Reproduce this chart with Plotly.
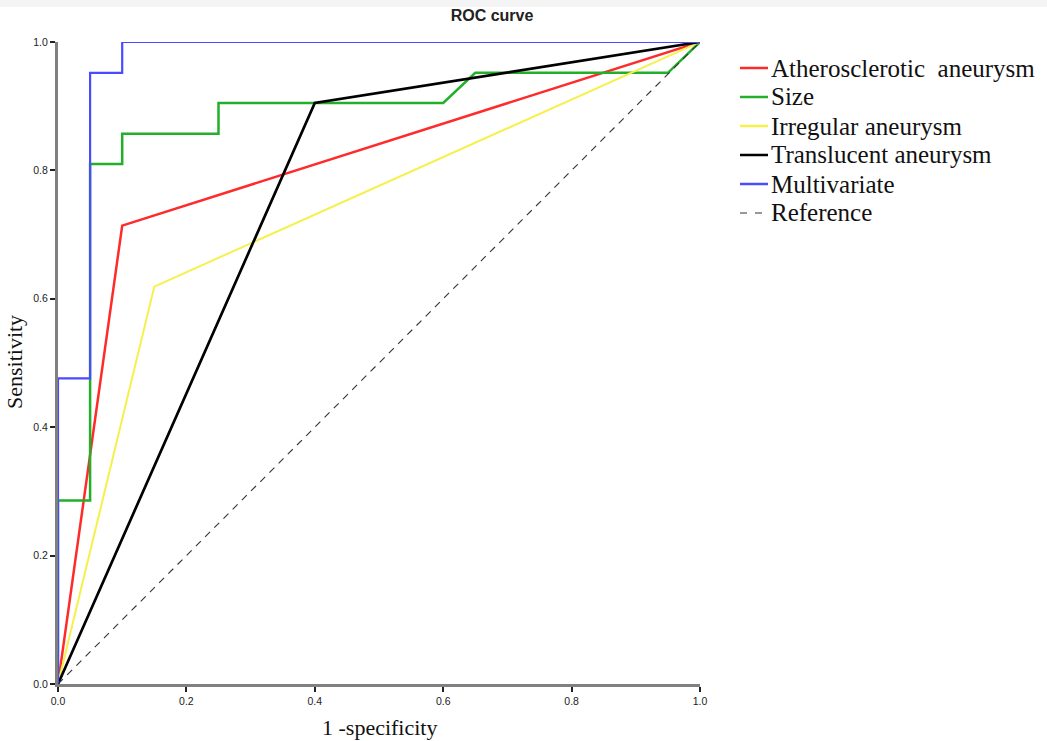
import plotly.graph_objects as go

# ROC curve data (1 - specificity, sensitivity)
athero_x = [0.0, 0.10, 1.0]
athero_y = [0.0, 0.714, 1.0]

size_x = [0.0, 0.0, 0.05, 0.05, 0.10, 0.10, 0.25, 0.25, 0.60, 0.65, 0.95, 1.0]
size_y = [0.0, 0.286, 0.286, 0.810, 0.810, 0.857, 0.857, 0.905, 0.905, 0.952, 0.952, 1.0]

irregular_x = [0.0, 0.15, 1.0]
irregular_y = [0.0, 0.619, 1.0]

translucent_x = [0.0, 0.40, 1.0]
translucent_y = [0.0, 0.905, 1.0]

multi_x = [0.0, 0.0, 0.05, 0.05, 0.10, 0.10, 1.0]
multi_y = [0.0, 0.476, 0.476, 0.952, 0.952, 1.0, 1.0]

ref_x = [0.0, 1.0]
ref_y = [0.0, 1.0]

tick_vals = [0.0, 0.2, 0.4, 0.6, 0.8, 1.0]
tick_text = ["0.0", "0.2", "0.4", "0.6", "0.8", "1.0"]

series = [
    ("Atherosclerotic  aneurysm", athero_x, athero_y, "#ff2a2a", "solid", 2.5),
    ("Size", size_x, size_y, "#22b02a", "solid", 2.5),
    ("Irregular aneurysm", irregular_x, irregular_y, "#f5f04a", "solid", 2.0),
    ("Translucent aneurysm", translucent_x, translucent_y, "#000000", "solid", 2.7),
    ("Multivariate", multi_x, multi_y, "#4a4aff", "solid", 2.2),
    ("Reference", ref_x, ref_y, "#333333", "dash", 1.1),
]

W, H = 1047, 741
L, R, T, B = 58, 347, 42, 57
PW, PH = W - L - R, H - T - B

def px_x(px):
    return (px - L) / PW

def px_y(py):
    return (H - B - py) / PH

fig = go.Figure()
for name, xs, ys, color, dash, w in series:
    fig.add_trace(go.Scatter(
        x=xs, y=ys, mode="lines", name=name, showlegend=False,
        line=dict(color=color, width=w, dash=dash if dash == "solid" else "7px,6px"),
        cliponaxis=False,
    ))

axis_common = dict(
    range=[0, 1], tickvals=tick_vals, ticktext=tick_text,
    showgrid=False, zeroline=False, automargin=False,
    showline=True, linecolor="#808080", linewidth=3,
    ticks="outside", ticklen=5, tickwidth=1.5, tickcolor="#222222",
    tickfont=dict(family="Liberation Sans, Arial", size=10.5, color="#222222"),
)

serif = "Liberation Serif, Times New Roman"
annotations = [
    dict(text="1 -specificity", xref="paper", yref="paper", x=px_x(380), y=px_y(727),
         xanchor="center", yanchor="middle", showarrow=False,
         font=dict(family=serif, size=22, color="#111111")),
    dict(text="Sensitivity", xref="paper", yref="paper", x=px_x(14), y=px_y(362),
         xanchor="center", yanchor="middle", showarrow=False, textangle=-90,
         font=dict(family=serif, size=22, color="#111111")),
]
shapes = [
    dict(type="rect", xref="paper", yref="paper", x0=px_x(0), x1=px_x(W), y0=px_y(0), y1=px_y(7),
         fillcolor="#f4f4f4", line=dict(width=0), layer="below"),
]

# manual legend
leg_y0, leg_dy = 68, 29
for i, (name, xs, ys, color, dash, w) in enumerate(series):
    yy = px_y(leg_y0 + i * leg_dy)
    if dash == "solid":
        shapes.append(dict(type="line", xref="paper", yref="paper",
                           x0=px_x(740), x1=px_x(768), y0=yy, y1=yy,
                           line=dict(color=color, width=2.5)))
    else:
        shapes.append(dict(type="line", xref="paper", yref="paper",
                           x0=px_x(740), x1=px_x(768), y0=yy, y1=yy,
                           line=dict(color="#333333", width=1.2, dash="7px,8px")))
    annotations.append(dict(text=name, xref="paper", yref="paper",
                            x=px_x(769), y=yy, xanchor="left", yanchor="middle",
                            showarrow=False,
                            font=dict(family=serif, size=25, color="#111111")))

fig.update_layout(
    width=W, height=H,
    margin=dict(l=L, r=R, t=T, b=B),
    paper_bgcolor="white", plot_bgcolor="white",
    title=dict(text="<b>ROC curve</b>", x=492/W, xanchor="center", y=1-15/H, yanchor="middle",
               font=dict(family="Liberation Sans, Arial", size=16, color="#222222")),
    xaxis=axis_common,
    yaxis=axis_common,
    showlegend=False,
    annotations=annotations,
    shapes=shapes,
)

fig.write_html("out.html", config={"displayModeBar": False},
               post_script="document.body.style.margin='0';document.body.style.overflow='hidden';")
